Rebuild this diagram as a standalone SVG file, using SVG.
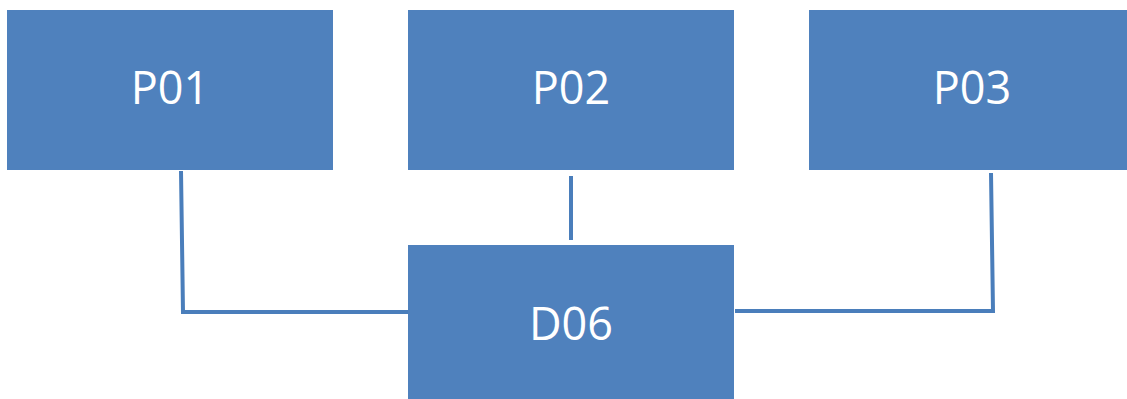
<svg xmlns="http://www.w3.org/2000/svg" width="1127" height="399" viewBox="0 0 1127 399">
<style>
.box{fill:#4F81BD}
.lbl{font-family:"Open Sans","Liberation Sans",sans-serif;font-size:45px;fill:#FFFFFF;text-anchor:middle}
.con{fill:none;stroke:#4A7EBB;stroke-width:4}
</style>
<rect width="1127" height="399" fill="#FFFFFF"/>
<g id="connectors">
<polyline class="con" points="181,171 183,312 410,312"/>
<line class="con" x1="571" y1="176" x2="571" y2="240"/>
<polyline class="con" points="991,173 993,311 735,311"/>
</g>
<g id="P01"><rect class="box" x="7" y="10" width="326" height="160"/><text class="lbl" x="170" y="104">P01</text></g>
<g id="P02"><rect class="box" x="408" y="10" width="326" height="160"/><text class="lbl" x="571" y="104">P02</text></g>
<g id="P03"><rect class="box" x="809" y="10" width="318" height="160"/><text class="lbl" x="972" y="104">P03</text></g>
<g id="D06"><rect class="box" x="408" y="245" width="326" height="154"/><text class="lbl" x="571" y="340">D06</text></g>
</svg>
